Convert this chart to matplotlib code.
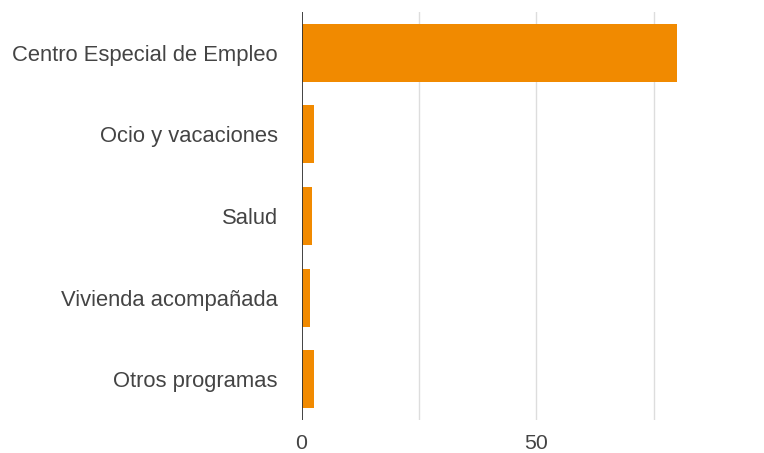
import matplotlib.pyplot as plt

categories = ["Centro Especial de Empleo", "Ocio y vacaciones", "Salud",
              "Vivienda acompañada", "Otros programas"]
values = [80, 2.7, 2.3, 1.9, 2.7]
grid_ticks = [25, 50, 75]
tick_values = [0, 50]
tick_labels = ["0", "50"]

plt.rcParams["font.family"] = ["Liberation Sans", "DejaVu Sans"]

fig = plt.figure(figsize=(7.64, 4.53), dpi=100)
ax = fig.add_axes([301.5 / 764, 1 - 420 / 453, (764 - 301.5) / 764, 408 / 453])

ypos = list(range(len(categories)))
ax.barh(ypos, values, height=0.71, color="#F18A00", zorder=3)
ax.set_ylim(len(categories) - 0.5, -0.5)
ax.set_xlim(0, (764 - 301.5) / 4.696)

for g in grid_ticks:
    ax.axvline(g, color="#dddddd", lw=1, zorder=1)
ax.axvline(0, color="#333333", lw=1.3, zorder=4)

ax.set_yticks(ypos)
ax.set_yticklabels(categories, fontsize=15.8, color="#444444")
ax.set_xticks(tick_values)
ax.set_xticklabels(tick_labels, fontsize=15.3, color="#444444")
ax.tick_params(axis="y", length=0, pad=17)
ax.tick_params(axis="x", length=0, pad=10)

for s in ax.spines.values():
    s.set_visible(False)

fig.savefig("out.png", dpi=100)
